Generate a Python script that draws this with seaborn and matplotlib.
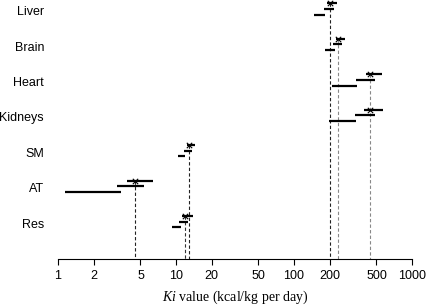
import numpy as np
import pandas as pd
import matplotlib
matplotlib.use('Agg')
import matplotlib.pyplot as plt
from matplotlib.ticker import FixedLocator, NullLocator
import seaborn as sns

# Ki values (kcal/kg per day)
categories = ['Liver', 'Brain', 'Heart', 'Kidneys', 'SM', 'AT', 'Res']
ki_est = [200, 238, 438, 438, 13.0, 4.5, 11.9]
est_lo = [189, 227, 405, 392, 12.3, 3.87, 11.2]
est_hi = [230, 271, 560, 571, 14.5, 6.42, 13.9]
mid_lo = [180, 215, 333, 327, 11.8, 3.14, 10.7]
mid_hi = [218, 254, 486, 483, 13.7, 5.35, 12.6]
low_lo = [149, 183, 211, 198, 10.3, 1.15, 9.2]
low_hi = [182, 221, 344, 335, 11.9, 3.40, 11.0]
x_ticks = [1, 2, 5, 10, 20, 50, 100, 200, 500, 1000]

sns.set_theme(style='white')
plt.rcParams['font.family'] = ['Liberation Sans', 'DejaVu Sans']
plt.rcParams['mathtext.fontset'] = 'custom'
plt.rcParams['mathtext.it'] = 'Liberation Serif:italic'
plt.rcParams['mathtext.rm'] = 'Liberation Serif'

fig = plt.figure(figsize=(4.27, 3.07), dpi=100)
ax = fig.add_axes([58 / 427, 48 / 307, 354 / 427, 259 / 307])

ypos = np.arange(len(categories))
offsets = [-0.205, -0.047, 0.113]
y_bottom = 7.008

# dashed guide lines from each estimate down to the axis (one per distinct value)
guide_colors = ['#222222', '#888888', '#888888', '#888888', '#222222', '#222222', '#333333']
drawn = set()
for i in range(len(categories)):
    if ki_est[i] in drawn:
        continue
    drawn.add(ki_est[i])
    ax.vlines(ki_est[i], ypos[i] + offsets[0], y_bottom, colors=guide_colors[i],
              linestyles=(0, (3, 2)), linewidth=0.8, zorder=1)

# range bars
ax.hlines(ypos + offsets[0], est_lo, est_hi, colors='black', linewidth=1.6, zorder=2)
ax.hlines(ypos + offsets[1], mid_lo, mid_hi, colors='black', linewidth=1.6, zorder=2)
ax.hlines(ypos + offsets[2], low_lo, low_hi, colors='black', linewidth=1.6, zorder=2)

# estimate markers
df = pd.DataFrame({'ki': ki_est, 'y': ypos + offsets[0]})
sns.scatterplot(data=df, x='ki', y='y', marker='x', color='black', s=15,
                linewidth=0.8, ax=ax, zorder=3, legend=False)

ax.set_xscale('log')
ax.set_xlim(1, 1000)
ax.set_ylim(y_bottom, -0.302)
ax.xaxis.set_major_locator(FixedLocator(x_ticks))
ax.xaxis.set_minor_locator(NullLocator())
ax.set_xticklabels([str(t) for t in x_ticks])
ax.set_yticks(ypos)
ax.set_yticklabels(categories)
ax.tick_params(axis='x', direction='out', length=4, width=0.8, pad=4,
               labelsize=9, colors='black', bottom=True)
ax.tick_params(axis='y', length=0, pad=10, labelsize=9, colors='black')
ax.set_xlabel('')
ax.set_ylabel('')

for side in ['top', 'right', 'left']:
    ax.spines[side].set_visible(False)
ax.spines['bottom'].set_color('black')
ax.spines['bottom'].set_linewidth(0.8)

fig.text(235 / 427, (307 - 297) / 307, r'$\mathit{Ki}$ value (kcal/kg per day)',
         ha='center', va='center', fontsize=10, family='Liberation Serif', color='black')

fig.savefig('out.png', dpi=100)
